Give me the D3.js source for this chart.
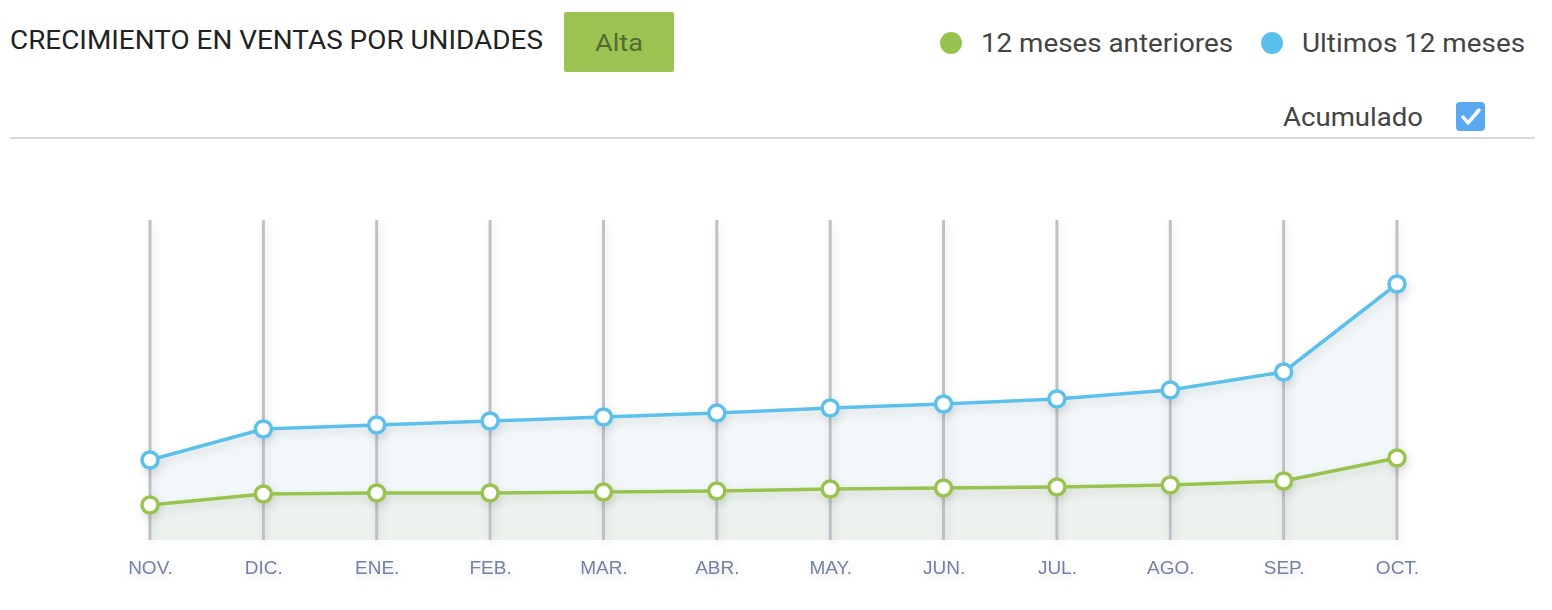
<!DOCTYPE html>
<html lang="es">
<head>
<meta charset="UTF-8">
<title>Crecimiento en ventas por unidades</title>
<script src="https://cdn.jsdelivr.net/npm/d3@7"></script>
<style>
html, body { margin: 0; padding: 0; background: #fff; }
body { font-family: "Roboto", sans-serif; }
</style>
</head>
<body>
<div id="chart"></div>
<script>
// data (accumulated units, arbitrary scale)
var months = ["NOV.", "DIC.", "ENE.", "FEB.", "MAR.", "ABR.", "MAY.", "JUN.", "JUL.", "AGO.", "SEP.", "OCT."];
var anteriores = [35, 46, 47, 47, 48, 49, 51, 52, 53, 55, 59, 82];
var ultimos = [80, 111, 115, 119, 123, 127, 132, 136, 141, 150, 168, 256];
var seriesNames = ["12 meses anteriores", "Ultimos 12 meses"];
var seriesColors = ["#98c350", "#5bc0eb"];

var W = 1552, H = 610;
var svg = d3.select("#chart").append("svg")
  .attr("width", W).attr("height", H)
  .style("display", "block");

// soft shadow used for grid, lines and labels
var defs = svg.append("defs");
var f = defs.append("filter").attr("id", "shadow")
  .attr("x", "-20%").attr("y", "-20%").attr("width", "140%").attr("height", "160%");
f.append("feDropShadow").attr("dx", 2).attr("dy", 4).attr("stdDeviation", 4)
  .attr("flood-color", "#000").attr("flood-opacity", 0.12);

// header (text is stretched a bit wider than Roboto, so fit the measured widths)
svg.append("text")
  .attr("x", 10).attr("y", 49)
  .attr("textLength", 533).attr("lengthAdjust", "spacingAndGlyphs")
  .style("font-family", "Roboto").style("font-size", "25px").style("fill", "#222")
  .text("CRECIMIENTO EN VENTAS POR UNIDADES");

svg.append("rect")
  .attr("x", 564).attr("y", 12).attr("width", 110).attr("height", 60).attr("rx", 2)
  .attr("fill", "#9bc453");
svg.append("text")
  .attr("x", 595).attr("y", 51)
  .attr("textLength", 48).attr("lengthAdjust", "spacingAndGlyphs")
  .style("font-family", "Roboto").style("font-size", "24px").style("fill", "#566b33")
  .text("Alta");

// legend
var legendX = [951, 1272];
var legendW = [252, 223];
seriesNames.forEach(function (name, i) {
  svg.append("circle").attr("cx", legendX[i]).attr("cy", 43).attr("r", 11).attr("fill", seriesColors[i]);
  svg.append("text")
    .attr("x", legendX[i] + 30).attr("y", 52)
    .attr("textLength", legendW[i]).attr("lengthAdjust", "spacingAndGlyphs")
    .style("font-family", "Roboto").style("font-size", "25px").style("fill", "#444")
    .text(name);
});

// acumulado checkbox
svg.append("text")
  .attr("x", 1283).attr("y", 126)
  .attr("textLength", 140).attr("lengthAdjust", "spacingAndGlyphs")
  .style("font-family", "Roboto").style("font-size", "25px").style("fill", "#444")
  .text("Acumulado");
svg.append("rect")
  .attr("x", 1456).attr("y", 102).attr("width", 29).attr("height", 29).attr("rx", 4)
  .attr("fill", "#5aa9f0");
svg.append("path")
  .attr("d", "M1463,117 L1468,123 L1479,110")
  .attr("fill", "none").attr("stroke", "#fff").attr("stroke-width", 3.5)
  .attr("stroke-linecap", "round").attr("stroke-linejoin", "round");

svg.append("line")
  .attr("x1", 10).attr("x2", 1535).attr("y1", 138).attr("y2", 138)
  .attr("stroke", "#d9d9d9").attr("stroke-width", 2);

// scales
var x = d3.scalePoint().domain(months).range([150, 1397]);
var y = d3.scaleLinear().domain([0, 320]).range([540, 220]);

var plot = svg.append("g");
var rows = months.map(function (m, i) { return { m: m, a: anteriores[i], u: ultimos[i] }; });

// areas
var areaU = d3.area().x(function (d) { return x(d.m); }).y0(y(0)).y1(function (d) { return y(d.u); });
var areaA = d3.area().x(function (d) { return x(d.m); }).y0(y(0)).y1(function (d) { return y(d.a); });
plot.append("path").datum(rows).attr("d", areaU).attr("fill", "#f2f7fa");
plot.append("path").datum(rows).attr("d", areaA).attr("fill", "#ecf2ee");

// vertical grid lines
plot.append("g").attr("filter", "url(#shadow)")
  .selectAll("line").data(months).enter().append("line")
  .attr("x1", function (d) { return x(d); })
  .attr("x2", function (d) { return x(d); })
  .attr("y1", y(320)).attr("y2", y(0))
  .attr("stroke", "#bfc0c6").attr("stroke-width", 3);

// lines and markers
[["u", 1], ["a", 0]].forEach(function (s) {
  var key = s[0], col = seriesColors[s[1]];
  var g = plot.append("g").attr("filter", "url(#shadow)");
  g.append("path").datum(rows)
    .attr("d", d3.line().x(function (d) { return x(d.m); }).y(function (d) { return y(d[key]); }))
    .attr("fill", "none").attr("stroke", col).attr("stroke-width", 3.5);
  g.selectAll("circle").data(rows).enter().append("circle")
    .attr("cx", function (d) { return x(d.m); })
    .attr("cy", function (d) { return y(d[key]); })
    .attr("r", 8)
    .attr("fill", "#fff").attr("stroke", col).attr("stroke-width", 3.5);
});

// x axis labels
var xAxis = d3.axisBottom(x).tickSize(0).tickPadding(0);
var ax = svg.append("g").attr("transform", "translate(0,574)").call(xAxis);
ax.select(".domain").remove();
ax.selectAll("text")
  .attr("dy", 0)
  .attr("filter", "url(#shadow)")
  .style("font-family", "'Liberation Sans', Arial, sans-serif")
  .style("font-size", "19px").style("fill", "#7580a5");
</script>
</body>
</html>
